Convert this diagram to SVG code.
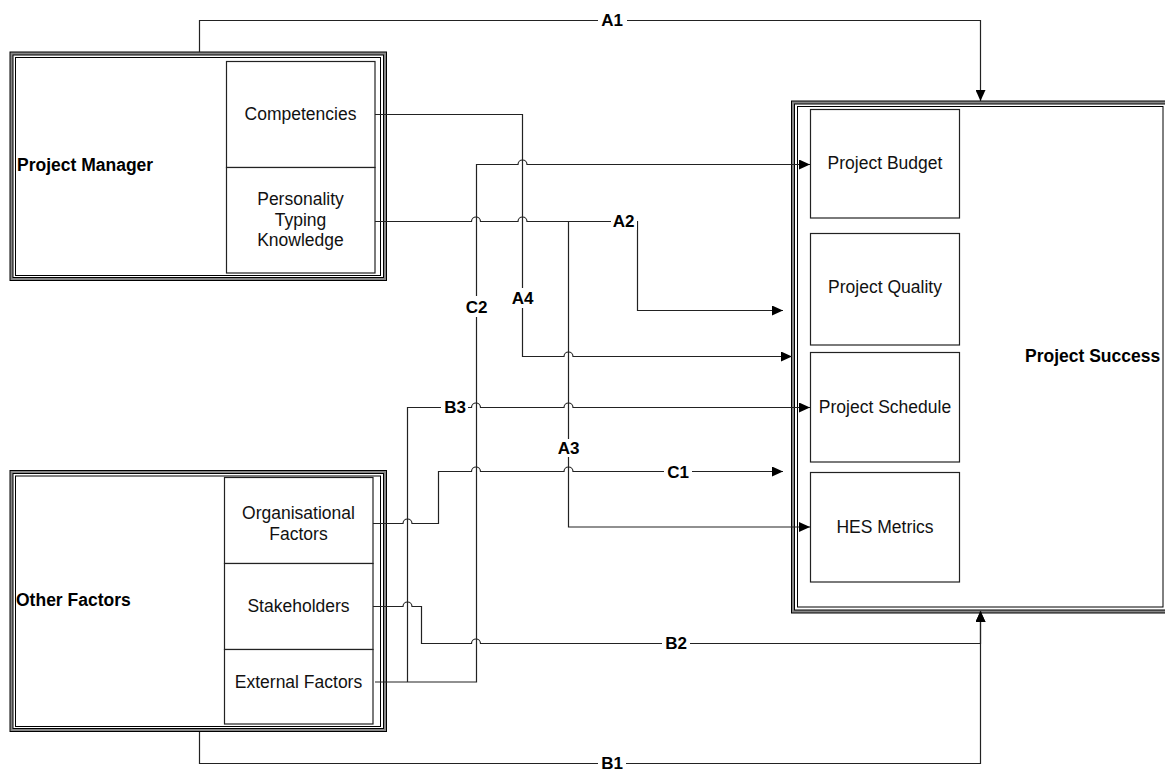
<svg xmlns="http://www.w3.org/2000/svg" width="1165" height="771" viewBox="0 0 1165 771">
<style>
.band{fill:none;stroke:#000;stroke-width:4}
.bandg{fill:none;stroke:#888;stroke-width:2}
.thin{fill:none;stroke:#000;stroke-width:1}
.sub{fill:#fff;stroke:#222;stroke-width:1.2}
.t{font-family:"Liberation Sans",Arial,sans-serif;font-size:17.5px;fill:#111;text-anchor:middle}
.b{font-family:"Liberation Sans",Arial,sans-serif;font-size:17.5px;font-weight:bold;fill:#000}
.lbl{font-family:"Liberation Sans",Arial,sans-serif;font-size:17px;font-weight:bold;fill:#000;text-anchor:middle}
.c{fill:none;stroke:#222;stroke-width:1.2}
.bg{fill:#fff;stroke:none}
</style>
<defs>
<marker id="arr" markerUnits="userSpaceOnUse" markerWidth="11" markerHeight="10" refX="11" refY="5" orient="auto">
<path d="M0,0 L11,5 L0,10 z" fill="#000"/>
</marker>
</defs>
<rect width="1165" height="771" fill="#fff"/>

<g id="project-manager">
<rect class="band" x="11.5" y="53.5" width="373.5" height="225.5"/>
<rect class="bandg" x="11.5" y="53.5" width="373.5" height="225.5"/>
<rect class="thin" x="15.5" y="57.5" width="365" height="218"/>
<text class="b" x="17" y="171">Project Manager</text>
<g id="competencies">
<rect class="sub" x="226.5" y="61.5" width="148.5" height="106"/>
<text class="t" x="300.5" y="120">Competencies</text>
</g>
<g id="personality">
<rect class="sub" x="226.5" y="167.5" width="148.5" height="105.5"/>
<text class="t" x="300.5" y="205">Personality</text>
<text class="t" x="300.5" y="226">Typing</text>
<text class="t" x="300.5" y="246">Knowledge</text>
</g>
</g>

<g id="other-factors">
<rect class="band" x="11.5" y="472" width="373.5" height="258"/>
<rect class="bandg" x="11.5" y="472" width="373.5" height="258"/>
<rect class="thin" x="15.5" y="476" width="365" height="250.5"/>
<text class="b" x="16" y="606">Other Factors</text>
<g id="organisational">
<rect class="sub" x="224.5" y="477.5" width="148.5" height="86"/>
<text class="t" x="298.5" y="519">Organisational</text>
<text class="t" x="298.5" y="540">Factors</text>
</g>
<g id="stakeholders">
<rect class="sub" x="224.5" y="563.5" width="148.5" height="86"/>
<text class="t" x="298.5" y="612">Stakeholders</text>
</g>
<g id="external">
<rect class="sub" x="224.5" y="649.5" width="148.5" height="74.5"/>
<text class="t" x="298.5" y="688">External Factors</text>
</g>
</g>

<g id="project-success">
<rect class="band" x="793" y="102.5" width="376" height="509"/>
<rect class="bandg" x="793" y="102.5" width="376" height="509"/>
<rect class="thin" x="797.5" y="106.5" width="365.5" height="500.5"/>
<text class="b" x="1025" y="362">Project Success</text>
<g id="budget">
<rect class="sub" x="810.5" y="109.5" width="149" height="108.5"/>
<text class="t" x="885" y="169">Project Budget</text>
</g>
<g id="quality">
<rect class="sub" x="810.5" y="233.5" width="149" height="111.5"/>
<text class="t" x="885" y="293">Project Quality</text>
</g>
<g id="schedule">
<rect class="sub" x="810.5" y="352.5" width="149" height="109.5"/>
<text class="t" x="885" y="413">Project Schedule</text>
</g>
<g id="hes">
<rect class="sub" x="810.5" y="472.5" width="149" height="109.5"/>
<text class="t" x="885" y="533">HES Metrics</text>
</g>
</g>

<g id="connectors">
<!-- A1 -->
<path class="c" d="M199.5,52 V20.5 H980.5 V101" marker-end="url(#arr)"/>
<!-- A4 competencies -->
<path class="c" d="M375,114.5 H522.5 V356.5 H564 a4.5,4.5 0 0 1 9,0 H792" marker-end="url(#arr)"/>
<!-- PTK A2 -->
<path class="c" d="M375,221.5 H471.5 a4.5,4.5 0 0 1 9,0 H518 a4.5,4.5 0 0 1 9,0 H637.5 V310.5 H783" marker-end="url(#arr)"/>
<!-- A3 -->
<path class="c" d="M568.5,221.5 V527 H810" marker-end="url(#arr)"/>
<!-- C2 external -->
<path class="c" d="M375,682 H476.5 V164.5 H518 a4.5,4.5 0 0 1 9,0 H810" marker-end="url(#arr)"/>
<!-- B3 -->
<path class="c" d="M407.5,682 V407.5 H471.5 a4.5,4.5 0 0 1 9,0 H564 a4.5,4.5 0 0 1 9,0 H810" marker-end="url(#arr)"/>
<!-- C1 organisational -->
<path class="c" d="M373,523.5 H403 a4.5,4.5 0 0 1 9,0 H438.5 V471.5 H471.5 a4.5,4.5 0 0 1 9,0 H564 a4.5,4.5 0 0 1 9,0 H783" marker-end="url(#arr)"/>
<!-- B2 stakeholders -->
<path class="c" d="M373,606.5 H403 a4.5,4.5 0 0 1 9,0 H421.5 V643.5 H471.5 a4.5,4.5 0 0 1 9,0 H980.5 V611" marker-end="url(#arr)"/>
<!-- B1 -->
<path class="c" d="M199.5,732 V763.5 H980.5 V611" marker-end="url(#arr)"/>

<!-- labels -->
<rect class="bg" x="598" y="12" width="29" height="17"/>
<text class="lbl" x="612" y="26">A1</text>
<rect class="bg" x="611" y="212" width="26" height="18"/>
<text class="lbl" x="623.5" y="227">A2</text>
<rect class="bg" x="510" y="288" width="25" height="20"/>
<text class="lbl" x="522.5" y="304">A4</text>
<rect class="bg" x="463" y="296" width="27" height="21"/>
<text class="lbl" x="476.5" y="313">C2</text>
<rect class="bg" x="441" y="399" width="27" height="17"/>
<text class="lbl" x="455" y="413">B3</text>
<rect class="bg" x="555" y="439" width="27" height="18"/>
<text class="lbl" x="568.5" y="454">A3</text>
<rect class="bg" x="664" y="463" width="28" height="17"/>
<text class="lbl" x="678" y="478">C1</text>
<rect class="bg" x="662" y="635" width="28" height="17"/>
<text class="lbl" x="676" y="649">B2</text>
<rect class="bg" x="598" y="755" width="28" height="16"/>
<text class="lbl" x="612" y="769">B1</text>
</g>
</svg>
